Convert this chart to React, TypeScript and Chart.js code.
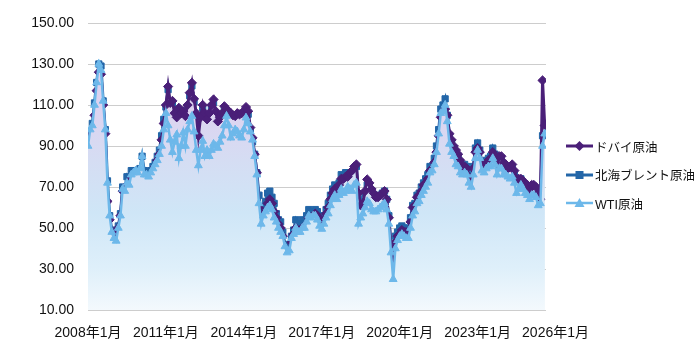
import React, { useEffect, useRef } from 'react';
import { Chart, registerables } from 'chart.js';

Chart.register(...registerables);

// x-axis tick labels (every 36 points)
const xTickIndex = [0, 36, 72, 108, 144, 180, 216];
const xTickLabels = ['2008年1月', '2011年1月', '2014年1月', '2017年1月', '2020年1月', '2023年1月', '2026年1月'];

const seriesNames = ['ドバイ原油', '北海ブレント原油', 'WTI原油'];

const dubai = [
  85.5, 88, 96, 105, 117, 126, 125, 110, 96, 63, 54, 48, 45, 46, 50, 56, 68, 67, 71, 68,
  74, 76, 74, 75, 73, 77, 74, 74, 73, 73, 77, 80, 83, 86, 93, 101, 110, 119, 111, 112,
  106, 104, 108.6, 106, 107, 104.6, 110, 116, 120.8, 113, 106, 95, 104, 110, 106, 103, 106, 110, 112.7, 107,
  102, 104, 106, 109.4, 108, 107, 106, 105, 104.6, 106, 105.4, 106, 107, 109, 107, 99, 94, 86, 77, 60,
  50, 55, 58, 62, 64, 62, 58, 55, 52, 50, 46, 40, 35, 38, 43, 47, 50, 48, 49, 50,
  49, 52, 55, 55, 56, 57, 56, 54, 52, 54, 57, 60, 64, 67, 69, 69, 71, 74, 74, 75,
  75, 77, 78, 80, 81, 67, 61, 62, 68, 73.7, 72, 69, 67, 65, 65, 66, 67, 68, 64, 55,
  40, 33, 43, 46, 47, 49, 48, 48, 47, 53, 60, 61, 65, 66, 68, 71, 72, 74, 78, 79,
  82, 87, 95, 104, 106, 108, 105, 96, 93, 90, 88, 86, 83, 80, 80, 79, 75, 73, 79, 87,
  89, 87, 81, 79, 82, 83, 84, 87, 85, 80, 85, 85, 82, 81, 79, 80, 81, 78, 74, 74,
  74, 73, 71, 71, 69, 71, 71, 70, 67, 64, 122, 100,
];

const brent = [
  90, 97, 101, 111, 121, 130, 129, 112, 98, 73, 56, 49, 46, 48, 51, 57, 70, 69, 75, 73,
  78, 78, 77, 78, 79, 85, 78, 77, 77, 78, 80, 82, 85, 88, 95, 103, 109, 117.5, 109.5, 110.5,
  104.5, 102.5, 107, 104.5, 105.5, 103, 108.5, 114.5, 119.3, 111.5, 104.5, 93.5, 102.5, 108.5, 104.5, 101.5, 104.5, 108.5, 111.2, 105.5,
  100.5, 102.5, 104.5, 107.9, 106.5, 105.5, 104.5, 103.5, 103.1, 104.5, 103.9, 104.5, 105.5, 107.5, 105.5, 97, 92, 86, 77, 66,
  56, 60, 63, 67, 68, 65, 62, 57, 54, 53, 48, 42, 38.5, 40, 46, 49, 54, 52, 52, 54,
  52, 56, 59, 58, 58, 59, 58, 56, 54, 56, 59, 62, 66, 69, 71, 70, 72, 76, 75, 77,
  77, 76, 77, 79, 80, 64, 60, 63, 67, 71, 70, 68, 66, 64, 64, 66, 67, 68, 64, 56,
  41, 38, 46, 48, 50, 51, 50, 50, 49, 55, 61, 62, 66, 67, 70, 72, 74, 76, 80, 80,
  84, 90, 98, 108, 110, 113, 105, 95, 91, 89, 86, 85, 82, 80, 81, 80, 76, 73, 80, 89,
  91.5, 88, 82, 80, 83, 84, 85, 89, 86, 80, 83, 84, 81, 80, 78, 78, 79, 76, 72, 73,
  74, 72, 70, 70, 68, 70, 70, 69, 66, 66, 95, 101,
];

const wti = [
  90, 98, 100, 110, 121, 130, 127, 112, 98, 72, 56, 48, 45, 43.7, 50, 56, 69, 68, 72, 71,
  76, 77, 78, 77, 79, 85, 76, 76, 75, 77, 79, 81, 83, 86, 90, 98, 106, 100, 93, 87,
  92, 95.5, 84, 90, 96.5, 90, 98, 102, 104.6, 97, 88, 80.5, 88, 92.4, 85, 88, 85, 88, 91, 90,
  89, 92, 95, 100, 104.6, 100, 94, 96, 98, 97, 95, 94, 98, 103.8, 101, 97, 93, 85, 76, 62,
  52, 56, 58, 60, 61, 59, 55, 53, 50, 48, 46, 41, 38, 39, 45, 47, 50, 48, 48, 50,
  50, 53, 56, 55, 56, 56, 54, 51, 49.5, 52, 55, 57, 61, 64, 66, 64, 66, 69, 67, 68,
  70, 69, 68, 71, 72, 52, 55, 57, 60, 63, 62, 59, 58, 58, 59, 60, 61, 62, 59, 52,
  38, 25, 40, 44, 46, 47, 46, 45, 45, 50, 56, 58, 62, 63, 66, 68, 70, 72, 77, 78,
  81, 87, 96, 106, 107, 110, 102, 91, 87, 85, 81, 80, 77, 76, 77, 76, 72, 70, 76, 84,
  88, 84, 78, 77, 79, 80, 80, 84, 81, 76, 79, 79, 76, 76, 75, 74, 75, 72, 67, 69,
  71, 69, 67, 66, 64, 66, 66, 65, 61, 62, 90, 96,
];

const Y_MIN = 10;
const Y_MAX = 150;
const Y_STEP = 20;

const COLORS = ['#4A1F78', '#2366A8', '#6DB8EA'];
const FONT = '"Liberation Sans", Arial, "Noto Sans CJK JP", sans-serif';

function LegendSymbol({ idx }: { idx: number }) {
  const c = COLORS[idx];
  let marker: React.ReactNode;
  if (idx === 0) marker = <polygon points="13.5,1 18.5,6 13.5,11 8.5,6" fill={c} />;
  else if (idx === 1) marker = <rect x={9.5} y={2} width={8} height={8} fill={c} />;
  else marker = <polygon points="13.5,1 18.5,10 8.5,10" fill={c} />;
  return (
    <svg width={27} height={12} style={{ display: 'block' }}>
      <line x1={0} y1={6} x2={27} y2={6} stroke={c} strokeWidth={idx === 2 ? 2.5 : 3} />
      {marker}
    </svg>
  );
}

export default function App() {
  const ref = useRef<HTMLCanvasElement>(null);

  useEffect(() => {
    const canvas = ref.current;
    if (!canvas) return;
    Chart.defaults.font.family = FONT;

    const toXY = (arr: number[]) => arr.map((y, i) => ({ x: i, y }));
    const grad = (ctx: any) => {
      const chart = ctx.chart;
      const ca = chart.chartArea;
      if (!ca) return 'rgba(215,225,245,1)';
      const g = chart.ctx.createLinearGradient(0, ca.top, 0, ca.bottom);
      g.addColorStop(0, '#D8CBEE');
      g.addColorStop(0.3, '#DDD3F0');
      g.addColorStop(0.48, '#D5DDF3');
      g.addColorStop(0.66, '#CFE6F7');
      g.addColorStop(0.85, '#DEEFFA');
      g.addColorStop(1, '#F3F9FD');
      return g;
    };

    const styles = ['rectRot', 'rect', 'triangle'];
    const radii = [4.6, 4.4, 4.5];
    const widths = [3, 3, 2.5];
    const orders = [1, 2, 0];
    const all = [dubai, brent, wti];

    const chart = new Chart(canvas, {
      type: 'line',
      data: {
        datasets: all.map((arr, k) => ({
          label: seriesNames[k],
          data: toXY(arr),
          borderColor: COLORS[k],
          backgroundColor: grad,
          pointBackgroundColor: COLORS[k],
          pointBorderColor: COLORS[k],
          pointBorderWidth: 1,
          pointStyle: styles[k] as any,
          pointRadius: radii[k],
          borderWidth: widths[k],
          fill: 'start',
          tension: 0,
          order: orders[k],
        })),
      },
      options: {
        animation: false,
        responsive: true,
        maintainAspectRatio: false,
        layout: { padding: { top: 23, right: 154, left: 0, bottom: 0 } },
        plugins: {
          legend: { display: false },
          tooltip: { enabled: false },
        },
        scales: {
          x: {
            type: 'linear',
            min: 0,
            max: 211.6,
            grid: { display: false, drawTicks: false },
            border: { display: false },
            afterBuildTicks: (s: any) => {
              s.ticks = xTickIndex.map((v) => ({ value: v }));
            },
            afterFit: (s: any) => {
              s.height = 40;
            },
            ticks: {
              autoSkip: false,
              maxRotation: 0,
              padding: 15,
              color: '#111',
              font: { family: FONT, size: 14 },
              callback: (v: any) => {
                const k = xTickIndex.indexOf(Number(v));
                return k >= 0 ? xTickLabels[k] : '';
              },
            },
          },
          y: {
            min: Y_MIN,
            max: Y_MAX,
            grid: { color: '#CDCDCD', lineWidth: 1, drawTicks: false },
            border: { display: false },
            afterFit: (s: any) => {
              s.width = 88;
            },
            ticks: {
              stepSize: Y_STEP,
              padding: 14,
              color: '#111',
              font: { family: FONT, size: 14 },
              callback: (v: any) => Number(v).toFixed(2),
            },
          },
        },
      } as any,
    });
    return () => chart.destroy();
  }, []);

  const legendY = [146, 174.5, 203];

  return (
    <div style={{ position: 'fixed', left: 0, top: 0, width: 700, height: 350, background: '#fff' }}>
      <canvas ref={ref} />
      {seriesNames.map((name, k) => (
        <div
          key={name}
          style={{
            position: 'absolute',
            left: 566,
            top: legendY[k] - 8,
            height: 16,
            display: 'flex',
            alignItems: 'center',
            fontFamily: FONT,
            fontSize: 12.5,
            color: '#111',
            whiteSpace: 'nowrap',
          }}
        >
          <LegendSymbol idx={k} />
          <span style={{ marginLeft: 2 }}>{name}</span>
        </div>
      ))}
    </div>
  );
}
